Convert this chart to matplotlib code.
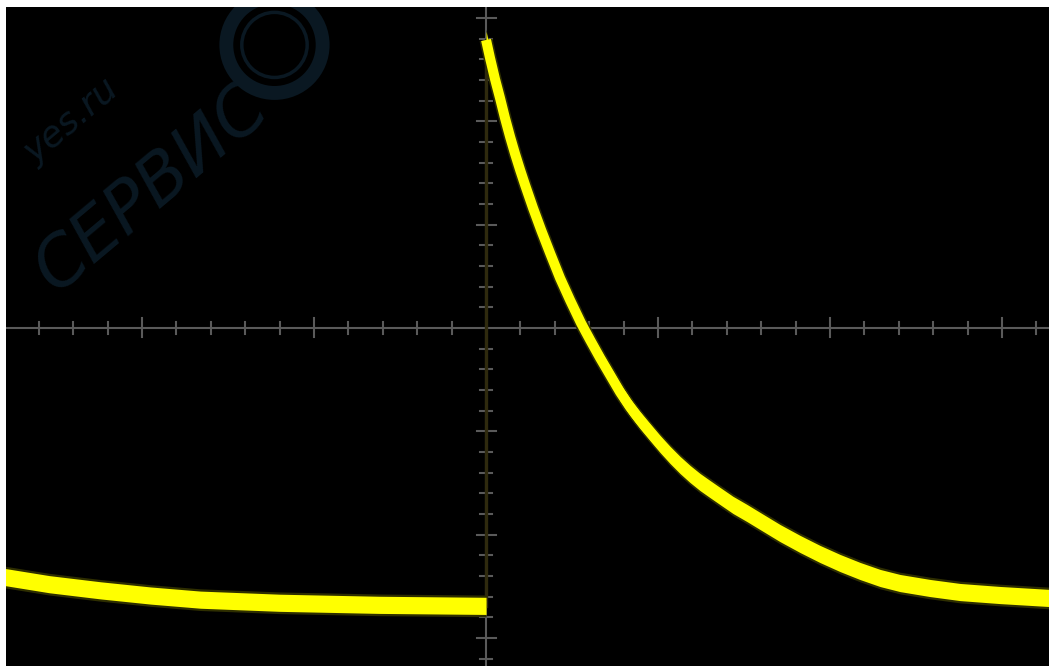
import numpy as np
import matplotlib.pyplot as plt
from matplotlib.patches import Ellipse

# trace readings, in screen divisions (x: time div, y: volt div)
left_x = [-2.80, -2.54, -2.24, -1.95, -1.66, -1.20, -0.62, 0.00]
left_y = [-2.41, -2.48, -2.54, -2.59, -2.63, -2.66, -2.68, -2.69]

right_x = [0.000, 0.023, 0.052, 0.081, 0.110, 0.140, 0.169, 0.198, 0.227, 0.273,
           0.320, 0.372, 0.430, 0.488, 0.552, 0.605, 0.663, 0.721, 0.779, 0.837,
           0.895, 0.953, 1.012, 1.070, 1.128, 1.186, 1.244, 1.302, 1.360, 1.436,
           1.517, 1.593, 1.709, 1.826, 1.942, 2.058, 2.174, 2.291, 2.407, 2.581,
           2.756, 2.988, 3.280]
right_y = [2.788, 2.614, 2.410, 2.227, 2.033, 1.849, 1.684, 1.530, 1.384, 1.162,
           0.949, 0.726, 0.484, 0.271, 0.048, -0.116, -0.290, -0.455, -0.620, -0.765,
           -0.891, -1.007, -1.123, -1.229, -1.326, -1.413, -1.491, -1.559, -1.626, -1.713,
           -1.791, -1.868, -1.985, -2.091, -2.188, -2.275, -2.352, -2.420, -2.469, -2.517,
           -2.556, -2.585, -2.614]

# graticule ticks
x_ticks = [round(v, 1) for v in np.arange(-2.8, 3.3, 0.2) if abs(v) > 1e-6]
y_ticks = [round(v, 1) for v in np.arange(-3.2, 3.2, 0.2) if abs(v) > 1e-6]

fig = plt.figure(figsize=(10.49, 6.66), dpi=100, facecolor='white')
ax = fig.add_axes([6 / 1049, 0, 1043 / 1049, 659 / 666])
ax.set_facecolor('black')
ax.set_xlim(-2.791, 3.273)
ax.set_ylim(-3.272, 3.107)
ax.set_axis_off()
ax.add_patch(plt.Rectangle((0, 0), 1, 1, transform=ax.transAxes, color='black', zorder=0))

# faint watermark (1 div = 172 px across, 103.3 px up)
wm = '#0a1822'
ax.add_patch(Ellipse((-1.23, 2.74), 0.56, 0.93, fill=False, ec=wm, lw=10, zorder=1))
ax.add_patch(Ellipse((-1.23, 2.74), 0.38, 0.63, fill=False, ec=wm, lw=2.5, zorder=1))
ax.text(-2.70, 1.35, 'СЕРВИС', color=wm, fontsize=50, rotation=40, style='italic',
        ha='left', va='center', zorder=1)
ax.text(-2.72, 2.00, 'yes.ru', color=wm, fontsize=26, rotation=40, style='italic',
        ha='left', va='center', zorder=1)

# center axes
gray = '#5a5a5a'
ax.axhline(0, color=gray, lw=1.5, zorder=2)
ax.axvline(0, color=gray, lw=1.5, zorder=2)
for t in x_ticks:
    h = 0.092 if abs(t - round(t)) < 1e-6 else 0.058
    ax.plot([t, t], [-h, h], color=gray, lw=1.5, zorder=2)
for t in y_ticks:
    w = 0.055 if abs(t - round(t)) < 1e-6 else 0.035
    ax.plot([-w, w], [t, t], color=gray, lw=1.5, zorder=2)

# dim vertical edge of the trace
ax.plot([0, 0], [left_y[-1], right_y[0]], color='#2f2a0e', lw=2.4, zorder=3)

# trace: dim halo, then bright core (vertical noise band + line width)
for xs, ys in [(left_x, left_y), (right_x, right_y)]:
    xs = np.array(xs)
    ys = np.array(ys)
    ax.fill_between(xs, ys - 0.105, ys + 0.105, color='#2e2e00', lw=0, zorder=4)
    ax.plot(xs, ys, color='#2e2e00', lw=9.5, solid_capstyle='butt', zorder=4)
    ax.fill_between(xs, ys - 0.083, ys + 0.083, color='#ffff00', lw=0, zorder=5)
    ax.plot(xs, ys, color='#ffff00', lw=7.2, solid_capstyle='butt',
            solid_joinstyle='round', zorder=5)

fig.savefig('out.png', dpi=100, facecolor='white')
